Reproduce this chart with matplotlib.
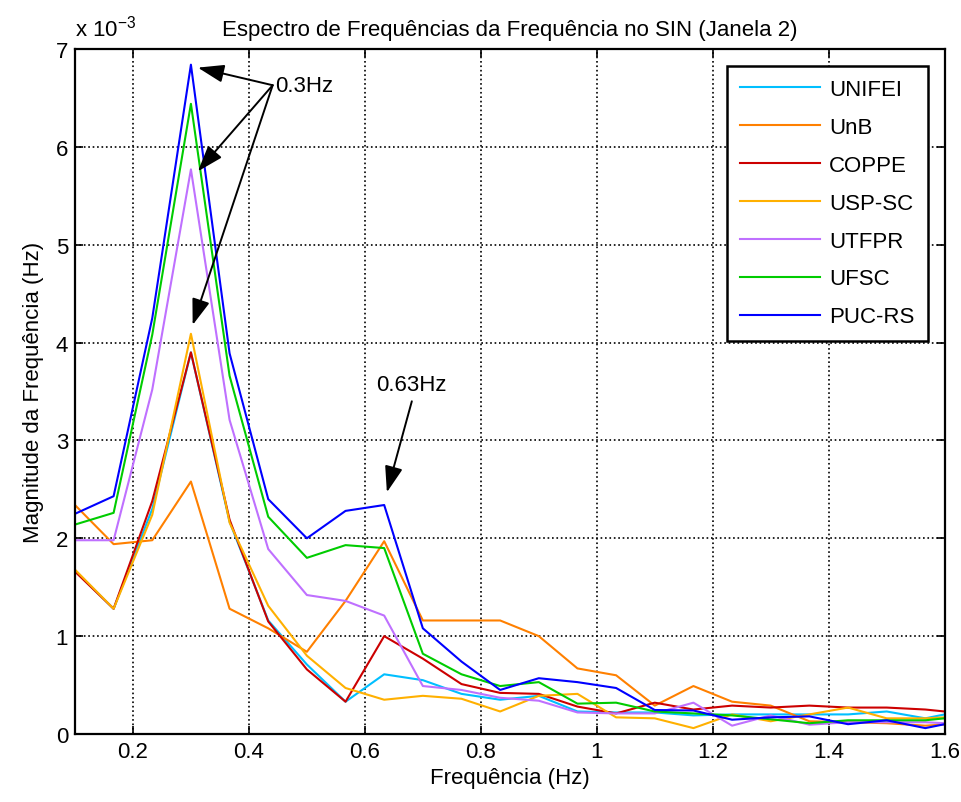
import numpy as np
import matplotlib
matplotlib.use("Agg")
from matplotlib import pyplot as plt
from matplotlib.ticker import FuncFormatter

plt.rcParams['font.family'] = ['Liberation Sans', 'DejaVu Sans']

# frequencias (Hz) - passo de 1/15 Hz
freq = 0.1 + np.arange(24) / 15.0

# magnitudes em unidades de 1e-3
unifei = [1.67, 1.28, 2.30, 3.90, 2.17, 1.16, 0.71, 0.33, 0.61, 0.55, 0.41, 0.35,
          0.39, 0.23, 0.22, 0.22, 0.19, 0.20, 0.20, 0.20, 0.20, 0.23, 0.16, 0.24]
unb = [2.34, 1.94, 1.98, 2.58, 1.28, 1.08, 0.84, 1.36, 1.97, 1.16, 1.16, 1.16,
       1.00, 0.67, 0.60, 0.29, 0.49, 0.33, 0.29, 0.13, 0.12, 0.11, 0.085, 0.11]
coppe = [1.66, 1.28, 2.38, 3.90, 2.19, 1.15, 0.66, 0.33, 1.00, 0.77, 0.51, 0.42,
         0.41, 0.28, 0.21, 0.32, 0.25, 0.29, 0.27, 0.29, 0.27, 0.27, 0.25, 0.21]
uspsc = [1.68, 1.28, 2.24, 4.09, 2.16, 1.31, 0.80, 0.47, 0.35, 0.39, 0.36, 0.23,
         0.39, 0.41, 0.17, 0.16, 0.06, 0.20, 0.13, 0.20, 0.27, 0.16, 0.16, 0.18]
utfpr = [1.98, 1.98, 3.52, 5.77, 3.21, 1.89, 1.42, 1.36, 1.21, 0.49, 0.45, 0.37,
         0.34, 0.22, 0.21, 0.21, 0.32, 0.085, 0.19, 0.095, 0.12, 0.12, 0.12, 0.10]
ufsc = [2.14, 2.26, 4.08, 6.44, 3.66, 2.22, 1.80, 1.93, 1.90, 0.82, 0.61, 0.49,
        0.53, 0.31, 0.32, 0.23, 0.21, 0.19, 0.15, 0.11, 0.14, 0.14, 0.14, 0.18]
pucrs = [2.25, 2.43, 4.25, 6.84, 3.89, 2.40, 2.00, 2.28, 2.34, 1.08, 0.74, 0.45,
         0.57, 0.53, 0.47, 0.245, 0.24, 0.146, 0.17, 0.18, 0.10, 0.14, 0.06, 0.14]

nomes = ['UNIFEI', 'UnB', 'COPPE', 'USP-SC', 'UTFPR', 'UFSC', 'PUC-RS']
series = [unifei, unb, coppe, uspsc, utfpr, ufsc, pucrs]
cores = ['#00BFFF', '#FF8000', '#CC0000', '#FFB000', '#BF70FF', '#00CC00', '#0000FF']

fig = plt.figure(figsize=(9.61, 8.03), dpi=100)
ax = fig.add_axes([0.078, 0.0847, 0.905, 0.853])

for nome, s, c in zip(nomes, series, cores):
    ax.plot(freq, s, color=c, linewidth=1.5, label=nome)

ax.set_xlim(0.1, 1.6)
ax.set_ylim(0, 7)
ax.set_xticks(np.arange(0.2, 1.61, 0.2))
ax.set_yticks(range(8))
ax.xaxis.set_major_formatter(FuncFormatter(lambda v, p: '%g' % round(v, 2)))
ax.tick_params(direction='in', top=True, right=True, labelsize=16, length=6, width=1.2, pad=5)
ax.grid(True, color='black', linestyle=':', linewidth=1.2)
for sp in ax.spines.values():
    sp.set_linewidth(1.6)

ax.set_title('Espectro de Frequências da Frequência no SIN (Janela 2)', fontsize=16, pad=10)
ax.set_xlabel('Frequência (Hz)', fontsize=16, labelpad=4)
ax.set_ylabel('Magnitude da Frequência (Hz)', fontsize=16, labelpad=8)
ax.text(0.0, 1.012, 'x 10$^{\\mathdefault{-3}}$', transform=ax.transAxes, fontsize=16,
        ha='left', va='bottom')

leg = ax.legend(loc='upper right', fontsize=16, frameon=True, fancybox=False,
                edgecolor='black', framealpha=1, handlelength=3.6, handletextpad=0.4,
                labelspacing=0.76, borderpad=0.6, borderaxespad=0.75)
leg.get_frame().set_linewidth(1.8)

# anotacoes das setas
seta = dict(arrowstyle='-|>,head_length=1.6,head_width=0.55', color='black', lw=1.4,
            shrinkA=0, shrinkB=0)
ax.text(0.445, 6.63, '0.3Hz', fontsize=16, ha='left', va='center')
for alvo in [(0.312, 6.81), (0.312, 5.75), (0.303, 4.18)]:
    ax.annotate('', xy=alvo, xytext=(0.441, 6.63), arrowprops=seta)
ax.text(0.681, 3.57, '0.63Hz', fontsize=16, ha='center', va='center')
ax.annotate('', xy=(0.638, 2.47), xytext=(0.681, 3.40), arrowprops=seta)

fig.savefig('out.png', dpi=100)
